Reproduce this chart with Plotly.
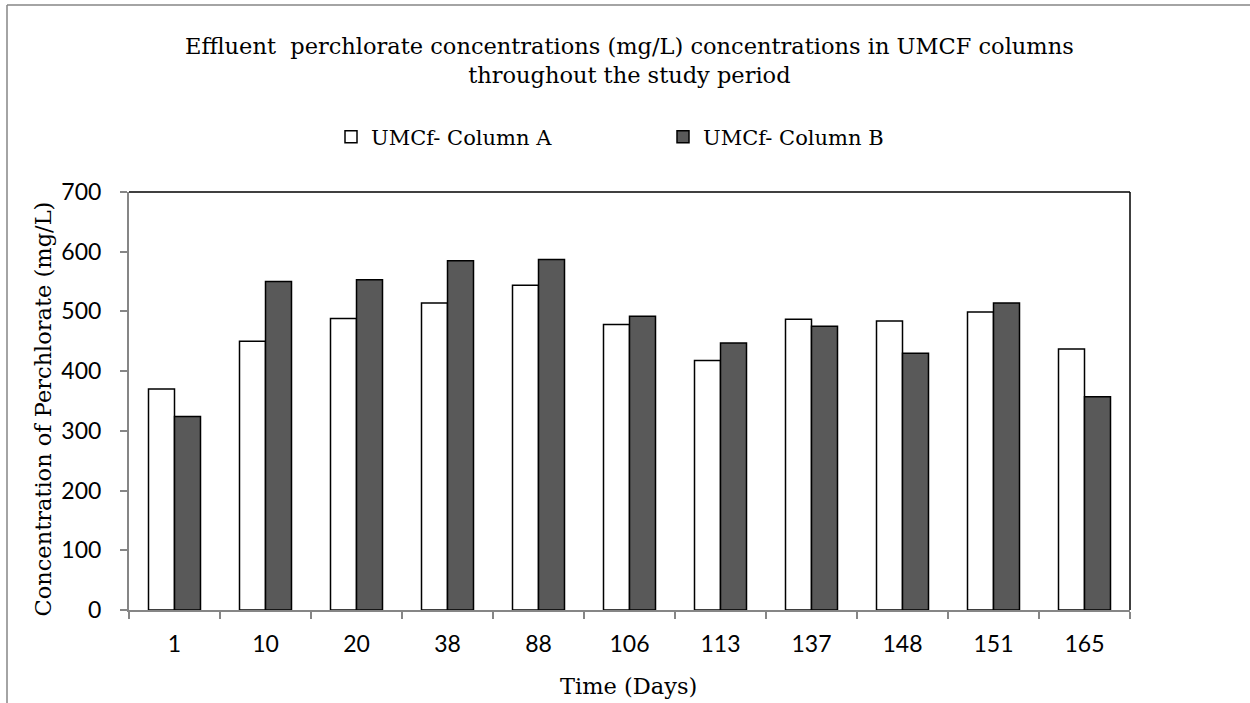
import plotly.graph_objects as go

days = ["1", "10", "20", "38", "88", "106", "113", "137", "148", "151", "165"]
column_a = [370, 450, 488, 514, 544, 478, 418, 487, 484, 499, 437]
column_b = [324, 550, 553, 585, 587, 492, 447, 475, 430, 514, 357]
y_ticks = [0, 100, 200, 300, 400, 500, 600, 700]

serif = "DejaVu Serif"
sans = "Lato"

W, H = 1250, 703
L, R, T, B = 129, 1130, 192, 610
pw, ph = R - L, B - T


def px(x):
    return (x - L) / pw


def py(y):
    return (B - y) / ph


fig = go.Figure()
fig.add_trace(go.Bar(x=days, y=column_a, name="UMCf- Column A",
                     marker=dict(color="#ffffff", line=dict(color="#000000", width=1.5))))
fig.add_trace(go.Bar(x=days, y=column_b, name="UMCf- Column B",
                     marker=dict(color="#595959", line=dict(color="#000000", width=1.5))))

fig.update_layout(
    width=W, height=H,
    margin=dict(l=L, r=W - R, t=T, b=H - B),
    paper_bgcolor="white", plot_bgcolor="white",
    barmode="group", bargap=0.4286, bargroupgap=0,
    title=dict(text="Effluent  perchlorate concentrations (mg/L) concentrations in UMCF columns<br>throughout the study period",
               x=0.5035, xanchor="center", y=1 - 54 / H, yanchor="middle",
               font=dict(family=serif, size=22.5, color="#000000")),
    legend=dict(orientation="h", x=px(331), xanchor="left", y=py(137), yanchor="middle",
                font=dict(family=serif, size=21, color="#000000"),
                entrywidth=287, entrywidthmode="pixels"),
    showlegend=True,
)

fig.update_xaxes(
    type="category", tickson="boundaries", ticks="outside", ticklen=7, tickwidth=1.5,
    tickcolor="#868686", showline=True, linecolor="#868686", linewidth=2,
    showgrid=False, tickfont=dict(family=sans, size=23, color="#000000"),
    ticklabelstandoff=12,
)
fig.update_yaxes(
    range=[0, 700], tickvals=y_ticks, ticks="outside", ticklen=7, tickwidth=1.5,
    tickcolor="#868686", showline=True, linecolor="#868686", linewidth=2,
    showgrid=False, zeroline=False, tickfont=dict(family=sans, size=23, color="#000000"),
    ticklabelstandoff=14,
)

fig.add_annotation(text="Concentration of Perchlorate (mg/L)", xref="paper", yref="paper",
                   x=px(42), y=py(409.5), textangle=-90, showarrow=False,
                   xanchor="center", yanchor="middle",
                   font=dict(family=serif, size=22.5, color="#000000"))
fig.add_annotation(text="Time (Days)", xref="paper", yref="paper",
                   x=px(628.5), y=py(686), showarrow=False, xanchor="center", yanchor="middle",
                   font=dict(family=serif, size=22.5, color="#000000"))

# plot-area border (top and right)
fig.add_shape(type="line", xref="paper", yref="paper", x0=0, x1=1, y0=1, y1=1,
              line=dict(color="#000000", width=1.5))
fig.add_shape(type="line", xref="paper", yref="paper", x0=1, x1=1, y0=0, y1=1,
              line=dict(color="#000000", width=1.5))
# outer chart border (left and top)
fig.add_shape(type="line", xref="paper", yref="paper", x0=px(7), x1=px(7), y0=py(710), y1=py(5),
              line=dict(color="#868686", width=1.5))
fig.add_shape(type="line", xref="paper", yref="paper", x0=px(7), x1=px(1260), y0=py(5), y1=py(5),
              line=dict(color="#868686", width=1.5))

fig.write_html("out.html", config={"displayModeBar": False},
               post_script="document.body.style.margin='0';document.body.style.overflow='hidden';")
